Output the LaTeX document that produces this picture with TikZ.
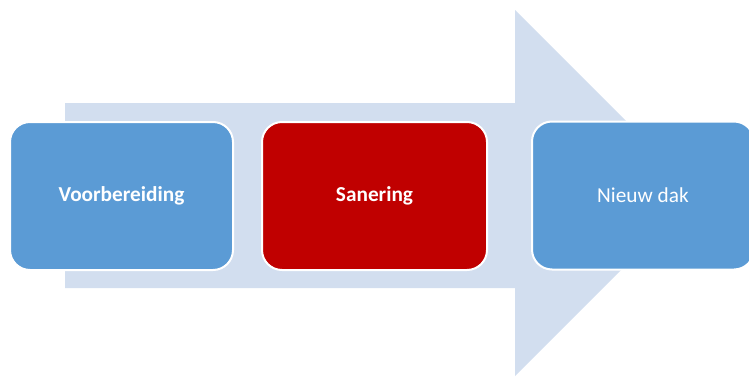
\documentclass[tikz,border=0pt]{standalone}
\usepackage{fontspec}
\setmainfont{Carlito}
\definecolor{arrowc}{HTML}{D2DEEF}
\definecolor{boxblue}{HTML}{5B9BD5}
\definecolor{boxred}{HTML}{C00000}
\begin{document}
\begin{tikzpicture}[x=1pt,y=1pt,
  stage/.style={draw=white,line width=2pt,rounded corners=20pt,minimum width=223pt,minimum height=148pt,text=white,font=\fontsize{21.3}{25}\selectfont,inner sep=0pt}]
\useasboundingbox (0,0) rectangle (749,376);
\fill[arrowc] (65,88) -- (515,88) -- (515,0) -- (698,183) -- (515,366) -- (515,273) -- (65,273) -- cycle;
\node[stage,fill=boxblue,font=\fontsize{21.3}{25}\selectfont\bfseries] (a) at (121.5,180) {Voorbereiding};
\node[stage,fill=boxred,minimum width=225pt,font=\fontsize{21.3}{25}\selectfont\bfseries] (b) at (374.5,180) {Sanering};
\node[stage,fill=boxblue,minimum width=222pt] (c) at (643,180.5) {Nieuw dak};
\end{tikzpicture}
\end{document}
